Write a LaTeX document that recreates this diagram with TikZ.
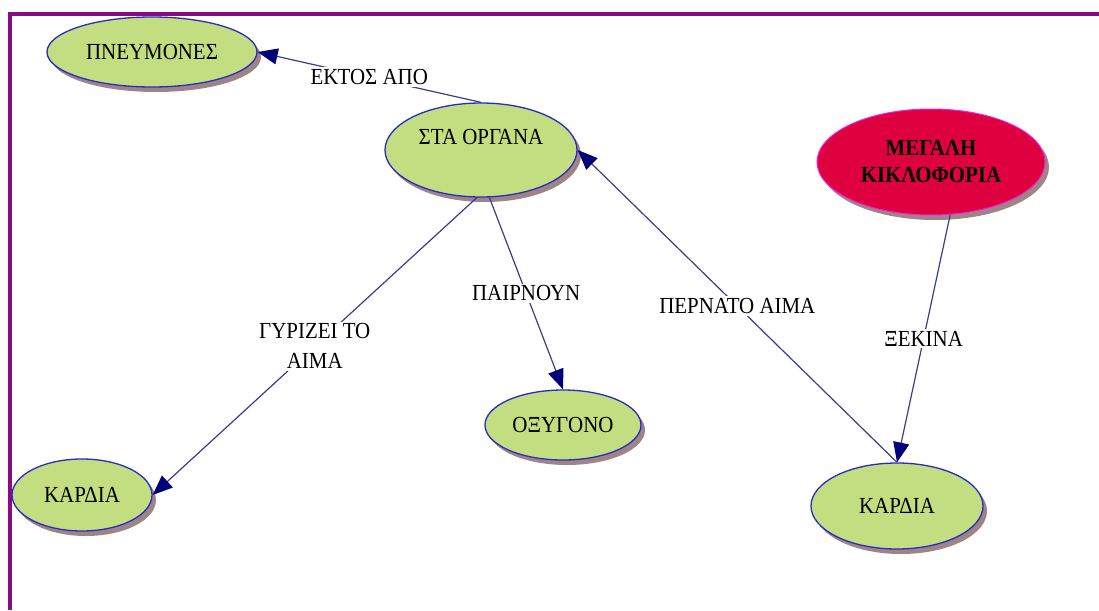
\documentclass[tikz,border=0pt]{standalone}
\usepackage{fontspec}
\setmainfont[FakeStretch=0.91]{Liberation Serif}
\usetikzlibrary{shapes.geometric,shadows,arrows.meta}
\definecolor{leaffill}{HTML}{C2DE80}
\definecolor{leafdraw}{HTML}{2A2AC8}
\definecolor{hubfill}{HTML}{DE003F}
\definecolor{hubdraw}{HTML}{F020E0}
\definecolor{shade}{HTML}{9E8484}
\definecolor{framecol}{HTML}{8A0A8A}
\definecolor{linkcol}{HTML}{3C3C8C}
\definecolor{tipcol}{HTML}{00007A}

\begin{document}
\begin{tikzpicture}[x=1pt,y=-1pt,
  font=\fontsize{23}{28}\selectfont,
  concept/.style={ellipse, inner sep=0pt, line width=1.3pt, draw=leafdraw, fill=leaffill,
    drop shadow={shadow xshift=4pt, shadow yshift=-5pt, fill=shade, opacity=1}},
  hub/.style={concept, draw=hubdraw, fill=hubfill, line width=1pt},
  link/.style={draw=linkcol, line width=1.2pt, -{Triangle[length=20pt,width=16pt,color=tipcol]}},
  tag/.style={fill=white, inner sep=2pt, align=center, midway}
]
\useasboundingbox (0,0) rectangle (1099,610);
\fill[white] (0,0) rectangle (1099,610);
% page frame
\draw[framecol, line width=4pt] (10,610) -- (10,14) -- (1099,14);

% concepts
\node[concept, minimum width=210, minimum height=70] (lungs) at (152,52) {ΠΝΕΥΜΟΝΕΣ};
\node[concept, minimum width=192, minimum height=94,
      label={[yshift=13pt]center:ΣΤΑ ΟΡΓΑΝΑ}] (organs) at (481,150) {};
\node[hub, minimum width=228, minimum height=106, align=center,
      font=\fontsize{23}{27}\selectfont\bfseries] (hub) at (931,162) {ΜΕΓΑΛΗ\\ΚΙΚΛΟΦΟΡΙΑ};
\node[concept, minimum width=140, minimum height=72] (heartL) at (82,495) {ΚΑΡΔΙΑ};
\node[concept, minimum width=156, minimum height=70] (oxygen) at (563,425) {ΟΞΥΓΟΝΟ};
\node[concept, minimum width=172, minimum height=86] (heartR) at (897,506) {ΚΑΡΔΙΑ};

% links
\draw[link] (organs.north) -- node[tag] {ΕΚΤΟΣ ΑΠΟ} (lungs.east);
\draw[link] (organs.265) -- node[tag, font=\fontsize{23}{30}\selectfont] {ΓΥΡΙΖΕΙ ΤΟ\\ΑΙΜΑ} (heartL.east);
\draw[link] (organs.280) -- node[tag] {ΠΑΙΡΝΟΥΝ} (oxygen.north);
\draw[link] (heartR.north) -- node[tag] {ΠΕΡΝΑΤΟ ΑΙΜΑ} (organs.east);
\draw[link] (hub.290) -- node[tag] {ΞΕΚΙΝΑ} (heartR.north);
\end{tikzpicture}
\end{document}
